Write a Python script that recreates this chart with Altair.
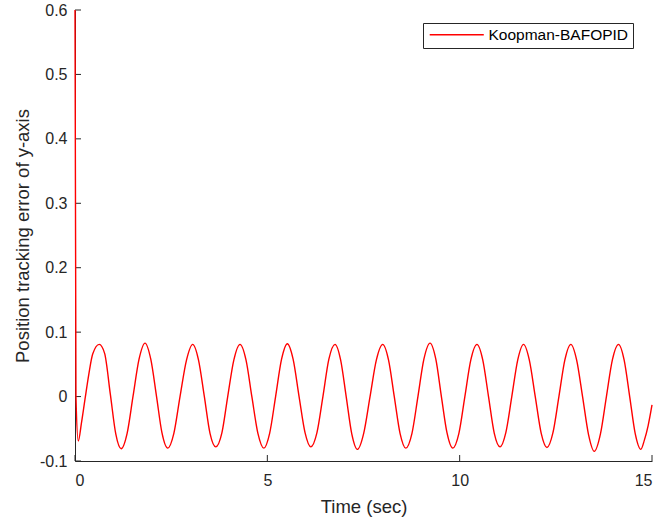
import altair as alt
import pandas as pd

# Time (sec) and tracking error values
time_s = [
    0.000, 0.025, 0.085, 0.170, 0.260, 0.360, 0.460, 0.630,
    0.770, 0.920, 1.060, 1.200,
    1.355, 1.510, 1.665, 1.820,
    1.970, 2.120, 2.260, 2.410,
    2.570, 2.730, 2.900, 3.060,
    3.210, 3.360, 3.510, 3.660,
    3.820, 3.970, 4.130, 4.290,
    4.445, 4.600, 4.755, 4.910,
    5.060, 5.215, 5.370, 5.520,
    5.670, 5.825, 5.980, 6.130,
    6.290, 6.445, 6.600, 6.760,
    6.905, 7.050, 7.195, 7.340,
    7.505, 7.670, 7.835, 8.000,
    8.150, 8.300, 8.450, 8.600,
    8.760, 8.915, 9.070, 9.230,
    9.380, 9.525, 9.670, 9.820,
    9.980, 10.135, 10.290, 10.450,
    10.600, 10.750, 10.900, 11.050,
    11.200, 11.355, 11.510, 11.660,
    11.810, 11.965, 12.120, 12.270,
    12.425, 12.580, 12.735, 12.890,
    13.040, 13.195, 13.350, 13.500,
    13.660, 13.815, 13.970, 14.130,
    14.275, 14.420, 14.565, 14.710,
    14.800, 14.900, 15.000,
]
error_y = [
    0.600, 0.000, -0.069, -0.040, -0.004, 0.035, 0.066, 0.081,
    0.067, 0.003, -0.058, -0.081,
    -0.057, 0.001, 0.058, 0.083,
    0.058, 0.000, -0.056, -0.080,
    -0.057, 0.000, 0.057, 0.081,
    0.057, 0.001, -0.057, -0.078,
    -0.056, 0.000, 0.057, 0.081,
    0.057, -0.001, -0.057, -0.080,
    -0.057, 0.000, 0.058, 0.082,
    0.058, 0.000, -0.056, -0.078,
    -0.056, 0.000, 0.058, 0.081,
    0.057, 0.000, -0.058, -0.082,
    -0.057, 0.000, 0.057, 0.081,
    0.057, 0.000, -0.057, -0.080,
    -0.057, 0.000, 0.058, 0.083,
    0.058, 0.000, -0.056, -0.080,
    -0.057, 0.000, 0.057, 0.081,
    0.057, 0.000, -0.057, -0.078,
    -0.056, 0.000, 0.057, 0.081,
    0.057, 0.000, -0.057, -0.079,
    -0.056, 0.000, 0.057, 0.081,
    0.057, 0.000, -0.059, -0.085,
    -0.058, 0.000, 0.057, 0.081,
    0.057, 0.000, -0.058, -0.082,
    -0.068, -0.045, -0.013,
]
series_name = "Koopman-BAFOPID"
x_ticks = [0, 5, 10, 15]
y_ticks = [-0.1, 0.0, 0.1, 0.2, 0.3, 0.4, 0.5, 0.6]

W, H = 577, 451
FONT = "Liberation Sans"
AX = "#262626"

df = pd.DataFrame({"t": time_s, "e": error_y, "s": series_name})
xt = pd.DataFrame({"v": x_ticks})
yt = pd.DataFrame({"v": y_ticks})

xscale = alt.Scale(domain=[0, 15], nice=False, zero=False)
yscale = alt.Scale(domain=[-0.1, 0.6], nice=False, zero=False)

ylabel_expr = "datum.value == 0 ? '0' : (datum.value < 0 ? '-' + format(-datum.value, '.1f') : format(datum.value, '.1f'))"

line = alt.Chart(df).mark_line(strokeWidth=1.4, interpolate="monotone").encode(
    x=alt.X("t:Q", scale=xscale,
            axis=alt.Axis(values=x_ticks, title="Time (sec)", ticks=False, grid=False,
                          labelPadding=11, titlePadding=9, format="d")),
    y=alt.Y("e:Q", scale=yscale,
            axis=alt.Axis(values=y_ticks, title="Position tracking error of y-axis", ticks=False,
                          grid=False, labelPadding=8, titlePadding=7, labelExpr=ylabel_expr)),
    color=alt.Color("s:N", scale=alt.Scale(domain=[series_name], range=["#ff0000"]),
                    legend=alt.Legend(title=None, orient="none", legendX=348, legendY=13,
                                      symbolType="M-5,0H5", symbolSize=117, symbolStrokeWidth=1.3,
                                      symbolOffset=22,
                                      strokeColor=AX, fillColor="white", padding=4,
                                      labelFontSize=15.5, labelFont=FONT, labelColor="#000000",
                                      labelOffset=24)),
)

xtick_rules = alt.Chart(xt).mark_rule(color=AX, strokeWidth=1).encode(
    x=alt.X("v:Q", scale=xscale), y=alt.value(H), y2=alt.value(H - 6)
)
ytick_rules = alt.Chart(yt).mark_rule(color=AX, strokeWidth=1).encode(
    y=alt.Y("v:Q", scale=yscale), x=alt.value(0), x2=alt.value(6)
)

chart = alt.layer(xtick_rules, ytick_rules, line).properties(
    width=W, height=H,
    autosize=alt.AutoSizeParams(type="none"),
    padding={"left": 75, "top": 10, "right": 7, "bottom": 61},
    background="white",
).configure_view(stroke=None).configure_axis(
    domainColor=AX, domainWidth=1, labelFont=FONT, labelFontSize=16, labelColor=AX,
    titleFont=FONT, titleFontSize=18.5, titleFontWeight="normal", titleColor=AX,
)

chart.save("out.html", embed_options={"renderer": "svg", "actions": False})
